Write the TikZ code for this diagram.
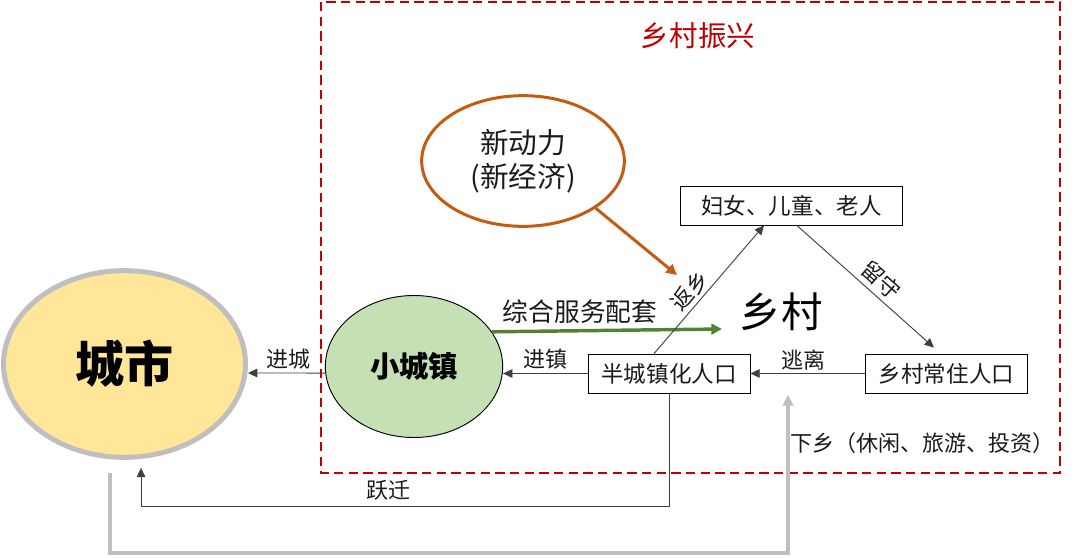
\documentclass[tikz,border=0pt]{standalone}
\usepackage{fontspec}
\setmainfont{Noto Sans CJK SC}
\usetikzlibrary{arrows.meta,shapes.geometric}
\definecolor{cityfill}{HTML}{FFE699}
\definecolor{cityline}{HTML}{BFBFBF}
\definecolor{townfill}{HTML}{C5E0B4}
\definecolor{orangeline}{HTML}{C55A11}
\definecolor{greenline}{HTML}{548235}
\definecolor{darkred}{HTML}{C00000}
\definecolor{txt}{HTML}{1A1A1A}
\definecolor{conn}{HTML}{404040}
\newcommand{\fs}[1]{\fontsize{#1}{#1}\selectfont}
\begin{document}
\begin{tikzpicture}[x=0.75pt,y=-0.75pt,
  boxnode/.style={draw=black,line width=0.6pt,rectangle,minimum width=121.5pt,minimum height=29.25pt,inner sep=0pt,text=txt,font=\fs{16.9}},
  lbl/.style={text=txt,font=\fs{16.5},inner sep=0pt},
  arr/.style={draw=conn,line width=0.7pt,-{Triangle[length=7pt,width=6.5pt]}},
  thickarr/.style={line width=2.6pt,-{Triangle[length=8pt,width=8pt]}},
  grayarr/.style={draw=cityline,line width=3pt,-{Triangle[length=8pt,width=8pt]}}]
\useasboundingbox (0,0) rectangle (1080,557);
% frame
\draw[darkred,line width=1.8pt,dash pattern=on 7pt off 4pt] (321,2) rectangle (1060,473);
\node[text=darkred,font=\fs{21.4},inner sep=0pt] (title) at (698,36) {乡村振兴};
% ellipses
\node[ellipse,draw=cityline,line width=3.75pt,fill=cityfill,minimum width=181.5pt,minimum height=140pt,inner sep=0pt,font=\fs{36.8}\bfseries] (city) at (124.5,364) {城市};
\node[ellipse,draw=black,line width=0.7pt,fill=townfill,minimum width=133pt,minimum height=106.5pt,inner sep=0pt,font=\fs{22}\bfseries] (town) at (414,366.5) {小城镇};
\node[ellipse,draw=orangeline,line width=2.25pt,minimum width=152pt,minimum height=98pt,inner sep=0pt,font=\fs{21.5},align=center,text=txt] (dong) at (523,161) {新动力\\[4pt](新经济)};
% boxes
\node[boxnode,minimum width=167pt] (top) at (791.5,205.5) {妇女、儿童、老人\hspace{10pt}};
\node[boxnode] (half) at (669,373.5) {半城镇化人口};
\node[boxnode] (rural) at (946.5,373.5) {乡村常住人口};
% big labels
\node[text=black,font=\fs{31},inner sep=0pt] (village) at (781,312) {乡村};
\node[lbl,font=\fs{19.3}] (zonghe) at (580,312) {综合服务配套};
% green & orange arrows
\coordinate (gend) at (722,329);
\draw[thickarr,greenline] (town.24.5) -- (gend);
\coordinate (oend) at (677,275);
\draw[thickarr,orangeline,line width=2.25pt] (dong.-33) -- (oend);
% thin connectors
\draw[arr] ([yshift=-4.9pt]town.west) -- ([yshift=-6.75pt]city.east);
\node[lbl] (jincheng) at (288,359) {进城};
\draw[arr] (half.west) -- (half.west -| town.east);
\node[lbl] (jinzhen) at (545,359) {进镇};
\draw[arr] (rural.west) -- (half.east);
\node[lbl] (taoli) at (803,360) {逃离};
\draw[arr] ([xshift=-11.25pt]half.north) -- node[pos=0.42,sloped,anchor=south,lbl,inner sep=2.5pt] (fanxiang) {返乡} ([xshift=-20.6pt]top.south);
\draw[arr] ([xshift=4pt]top.south) -- node[pos=0.54,sloped,anchor=south,lbl,inner sep=3.5pt] (liushou) {留守} ([xshift=-9.4pt,yshift=4.5pt]rural.north);
% jump
\coordinate (jend) at ([xshift=12.4pt,yshift=-6pt]city.south);
\coordinate (jy) at (0,506);
\draw[arr] (half.south) |- (jend |- jy) -- (jend);
\node[lbl] (yueqian) at (388,490) {跃迁};
% gray return
\coordinate (xs) at (110,473);
\coordinate (xe) at (788,395);
\coordinate (xb) at (0,553);
\draw[grayarr] (xs) -- (xs |- xb) -| (xe);
\node[lbl] (xiaxiang) at (922,443) {下乡（休闲、旅游、投资）};
\end{tikzpicture}
\end{document}
